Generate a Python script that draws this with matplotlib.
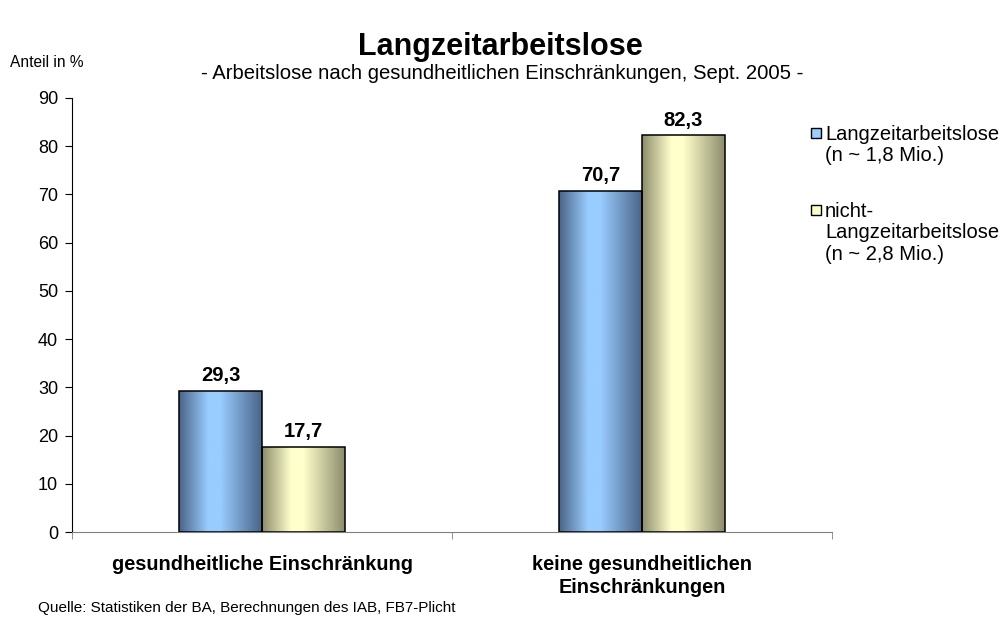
import numpy as np
import matplotlib
matplotlib.use("Agg")
import matplotlib.pyplot as plt
from matplotlib.colors import LinearSegmentedColormap
from matplotlib.patches import Rectangle

plt.rcParams['font.family'] = ['Liberation Sans', 'DejaVu Sans']

categories = ["gesundheitliche Einschränkung", "keine gesundheitlichen\nEinschränkungen"]
langzeit = [29.3, 70.7]
nicht_langzeit = [17.7, 82.3]
series_names = ["Langzeitarbeitslose\n(n ~ 1,8 Mio.)", "nicht-\nLangzeitarbeitslose\n(n ~ 2,8 Mio.)"]
yticks = [0, 10, 20, 30, 40, 50, 60, 70, 80, 90]

blue_cmap = LinearSegmentedColormap.from_list(
    "b", [(0, "#4a6488"), (0.35, "#99ccff"), (0.5, "#99ccff"), (1, "#4a6488")])
yellow_cmap = LinearSegmentedColormap.from_list(
    "y", [(0, "#8c8c6c"), (0.35, "#ffffcc"), (0.5, "#ffffcc"), (1, "#8c8c6c")])

fig = plt.figure(figsize=(10, 6.21), dpi=100)
ax = fig.add_axes([0.072, 0.1433, 0.76, 0.699])

x = np.arange(len(categories))
w = 0.218
grad = np.linspace(0, 1, 256).reshape(1, -1)

for vals, off, cmap in [(langzeit, -w / 2, blue_cmap), (nicht_langzeit, w / 2, yellow_cmap)]:
    bars = ax.bar(x + off, vals, w, facecolor="none", edgecolor="black", linewidth=1.1, zorder=3)
    for b, v in zip(bars, vals):
        x0, y0 = b.get_x(), b.get_y()
        im = ax.imshow(grad, cmap=cmap, aspect="auto", extent=(x0, x0 + b.get_width(), y0, y0 + b.get_height()),
                       zorder=2)
        im.set_clip_path(b)
        ax.annotate(f"{v:.1f}".replace(".", ","), (b.get_x() + b.get_width() / 2, v),
                    xytext=(0, 4), textcoords="offset points",
                    ha="center", va="bottom", fontsize=14.5, fontweight="bold")

ax.set_xlim(-0.5, 1.5)
ax.set_ylim(0, 90)
ax.set_yticks(yticks)
ax.tick_params(axis="y", direction="out", length=5, labelsize=13, pad=5)
ax.set_xticks(x)
ax.set_xticklabels(categories, fontsize=14.3, fontweight="bold", linespacing=1.25)
ax.tick_params(axis="x", length=0, pad=16.5)
ax.set_xticks([-0.5, 0.5, 1.5], minor=True)
ax.tick_params(axis="x", which="minor", direction="out", length=5, color="#808080")
for s in ["top", "right"]:
    ax.spines[s].set_visible(False)
ax.spines["bottom"].set_color("#808080")

fig.text(0.5, 0.924, "Langzeitarbeitslose", ha="center", va="center", fontsize=22, fontweight="bold")
fig.text(0.502, 0.882, "- Arbeitslose nach gesundheitlichen Einschränkungen, Sept. 2005 -",
         ha="center", va="center", fontsize=14.6)
fig.text(0.01, 0.899, "Anteil in %", ha="left", va="center", fontsize=11.2)
fig.text(0.038, 0.021, "Quelle: Statistiken der BA, Berechnungen des IAB, FB7-Plicht",
         ha="left", va="center", fontsize=11)

# legend
leg_colors = ["#99ccff", "#ffffcc"]
leg_top = [128, 205]
for name, c, yp in zip(series_names, leg_colors, leg_top):
    fig.patches.append(Rectangle((811 / 1000, 1 - (yp + 10) / 621), 10 / 1000, 10 / 621,
                                 transform=fig.transFigure, facecolor=c, edgecolor="black", linewidth=1))
    fig.text(825 / 1000, 1 - (yp - 3) / 621, name, ha="left", va="top", fontsize=14.5, linespacing=1.15)

fig.savefig("out.png", dpi=100)
